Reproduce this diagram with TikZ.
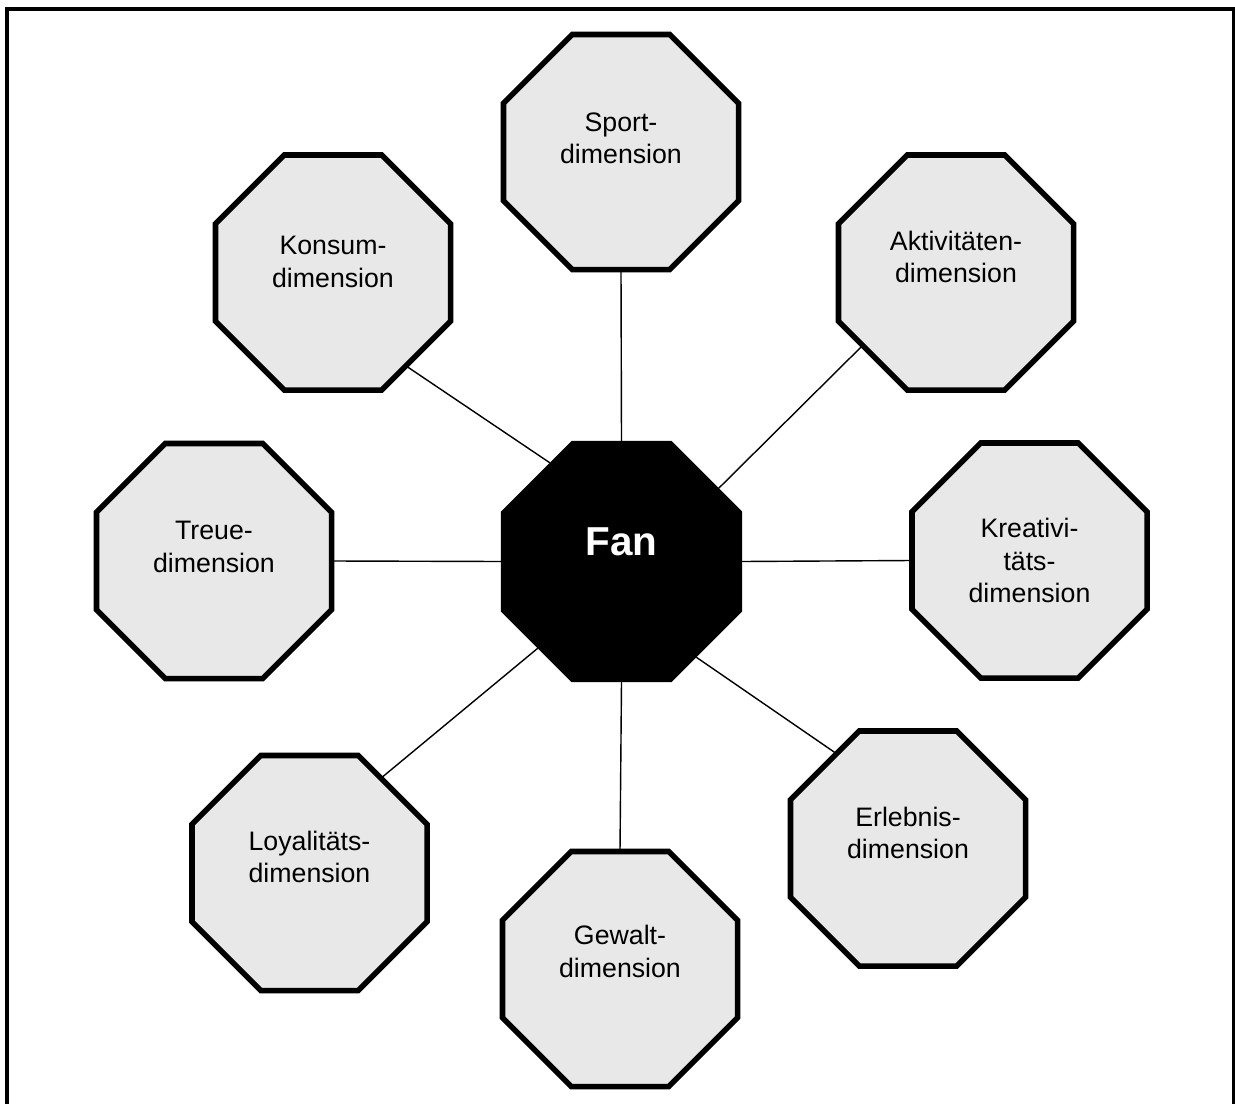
\documentclass[tikz,border=0pt]{standalone}
\usepackage{fontspec}
\setmainfont{Liberation Sans}
\usetikzlibrary{shapes.geometric}

\begin{document}
\begin{tikzpicture}[
  x=0.2mm, y=-0.2mm,
  font=\fontsize{15.2}{18.3}\selectfont,
  dimbox/.style={regular polygon, regular polygon sides=8, draw, line width=3.2pt, fill=black!9, minimum size=5.09cm, inner sep=0pt, outer sep=0pt},
  fanbox/.style={regular polygon, regular polygon sides=8, fill=black, minimum size=5.22cm, inner sep=0pt, outer sep=0pt},
  dimtext/.style={align=center, inner sep=0pt},
  fantext/.style={text=white, font=\fontsize{23}{27}\selectfont\bfseries, inner sep=0pt},
  link/.style={line width=0.8pt},
]
\clip (0,0) rectangle (1235,1104);
\useasboundingbox (0,0) rectangle (1235,1104);
\draw[line width=2pt] (7,9) rectangle (1233.5,1130);

% centre
\node[fanbox] (fan) at (621.5,561.5) {};
\node[fantext] (fan-txt) at ([yshift=11pt]fan.center) {Fan};

% dimensions
\node[dimbox] (sport) at (621,152) {};
\node[dimbox] (konsum) at (333,272.5) {};
\node[dimbox] (aktiv) at (956,272.5) {};
\node[dimbox] (treue) at (214,561) {};
\node[dimbox] (kreativ) at (1029.5,560.5) {};
\node[dimbox] (loyal) at (309.5,873) {};
\node[dimbox] (gewalt) at (620,969) {};
\node[dimbox] (erleb) at (908,848.5) {};

\node[dimtext] (sport-txt) at ([yshift=8pt]sport.center) {Sport-\\dimension};
\node[dimtext] (konsum-txt) at ([yshift=6pt]konsum.center) {Konsum-\\dimension};
\node[dimtext] (aktiv-txt) at ([yshift=9pt]aktiv.center) {Aktivitäten-\\dimension};
\node[dimtext] (treue-txt) at ([yshift=8pt]treue.center) {Treue-\\dimension};
\node[dimtext] (kreativ-txt) at (kreativ.center) {Kreativi-\\täts-\\dimension};
\node[dimtext] (loyal-txt) at ([yshift=9pt]loyal.center) {Loyalitäts-\\dimension};
\node[dimtext] (gewalt-txt) at ([yshift=10pt]gewalt.center) {Gewalt-\\dimension};
\node[dimtext] (erleb-txt) at ([yshift=9pt]erleb.center) {Erlebnis-\\dimension};

% links
\draw[link] (fan.90) -- (sport.-90);
\draw[link] (fan.126.7) -- (konsum.-52.4);
\draw[link] (fan.37.3) -- (aktiv.-142);
\draw[link] (fan.180) -- (treue.0);
\draw[link] (fan.0) -- (kreativ.180);
\draw[link] (fan.-134.7) -- (loyal.53.7);
\draw[link] (fan.-90) -- (gewalt.90);
\draw[link] (fan.-52.2) -- (erleb.127.3);

\end{tikzpicture}
\end{document}
